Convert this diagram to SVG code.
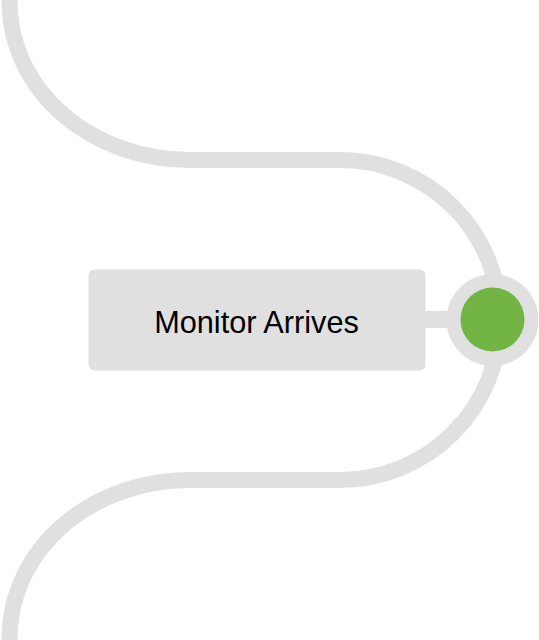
<svg xmlns="http://www.w3.org/2000/svg" width="539" height="640" viewBox="0 0 539 640">
  <style>
    .track { fill: none; stroke: #e0e0e0; stroke-width: 16; }
    .grey { fill: #e0e0e0; }
    .dot { fill: #73b545; }
    .label { font-family: "Liberation Sans", Arial, sans-serif; font-size: 30.7px; fill: #000000; text-anchor: middle; }
  </style>
  <rect width="539" height="640" fill="#ffffff"/>
  <g id="connectors">
    <path class="track" d="M 9.5 -10 L 9.5 0 C 9.5 95, 95 160, 190 160 L 340 160 A 160 160 0 0 1 500 320 A 160 160 0 0 1 340 480 L 190 480 C 95 480, 9.5 545, 9.5 640 L 9.5 650"/>
    <rect class="grey" x="420" y="311" width="40" height="17"/>
  </g>
  <g id="node-monitor-arrives">
    <rect class="grey" x="88.5" y="269.5" width="337" height="101" rx="6" ry="6"/>
    <text class="label" x="256.5" y="333">Monitor Arrives</text>
  </g>
  <g id="node-marker">
    <circle class="grey" cx="492.5" cy="320" r="46"/>
    <circle class="dot" cx="492.5" cy="319.5" r="32"/>
  </g>
</svg>
